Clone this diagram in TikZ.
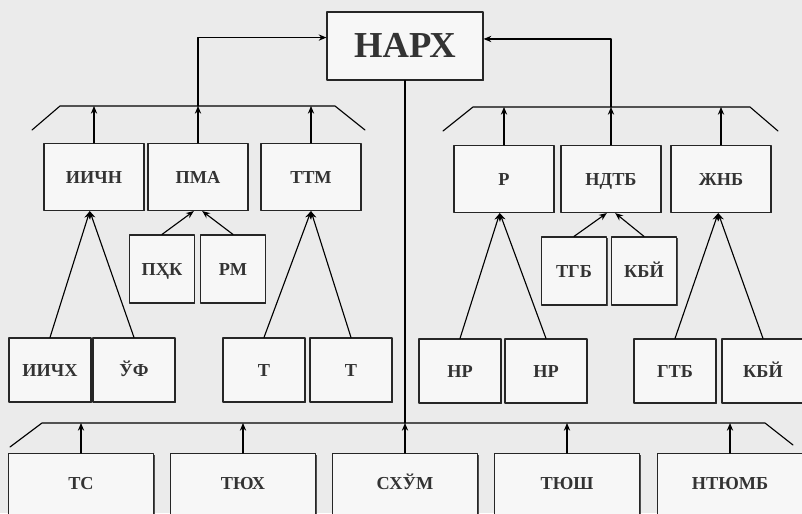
\documentclass[tikz,border=0pt]{standalone}
\usepackage{fontspec}
\setmainfont{Liberation Serif}
\usetikzlibrary{shadows,arrows.meta}
\begin{document}
\begin{tikzpicture}[x=0.025cm,y=-0.025cm,line join=round,line cap=round,>={Stealth[length=5.5pt,width=4.5pt]},thick]
	\tikzset{every node/.style={font=\bfseries\fontsize{13}{15}\selectfont,text=black!80},
		box/.style={draw=black!85,fill=black!3,inner sep=1pt,text height=8.6pt,text depth=0pt,drop shadow={shadow xshift=0.7pt,shadow yshift=-0.7pt,opacity=0.85,fill=black!80}},
		topbox/.style={box,minimum width=2.5cm,minimum height=1.675cm},
		subbox/.style={box,minimum width=1.625cm,minimum height=1.7cm},
		leafbox/.style={box,minimum width=2.05cm,minimum height=1.6cm},
		lowbox/.style={box,anchor=north,minimum width=3.625cm,minimum height=2.2cm,text height=0.3cm,text depth=0.7cm}}
	\useasboundingbox (0,0) rectangle (802,513);
	\clip (0,0) rectangle (802,513);
	\fill[black!8] (0,0) rectangle (802,513);
	\begin{scope}[draw=black!85]
		\node[box,minimum width=3.9cm,minimum height=1.7cm,text height=17pt,font=\bfseries\fontsize{26}{28}\selectfont] (narx) at (405,46) {НАРХ};
		\node[topbox] (iichn) at (94,177) {ИИЧН};
		\node[topbox] (pma) at (198,177) {ПМА};
		\node[topbox] (ttm) at (311,177) {ТТМ};
		\node[topbox] (r) at (504,179) {Р};
		\node[topbox] (ndtb) at (611,179) {НДТБ};
		\node[topbox] (jnb) at (721,179) {ЖНБ};
		\node[subbox] (pxk) at (162,269) {ПҲК};
		\node[subbox] (rm) at (233,269) {РМ};
		\node[subbox] (tgb) at (574,271) {ТГБ};
		\node[subbox] (kbja) at (644,271) {КБЙ};
		\node[leafbox] (iichx) at (50,370) {ИИЧХ};
		\node[leafbox] (uf) at (134,370) {ЎФ};
		\node[leafbox] (ta) at (264,370) {Т};
		\node[leafbox] (tb) at (351,370) {Т};
		\node[leafbox] (nra) at (460,371) {НР};
		\node[leafbox] (nrb) at (546,371) {НР};
		\node[leafbox] (gtb) at (675,371) {ГТБ};
		\node[leafbox] (kbjb) at (763,371) {КБЙ};
		\node[lowbox] (ts) at (81,453) {ТС};
		\node[lowbox] (tjux) at (243,453) {ТЮХ};
		\node[lowbox] (sxum) at (405,453) {СХЎМ};
		\node[lowbox] (tjush) at (567,453) {ТЮШ};
		\node[lowbox] (ntjumb) at (730,453) {НТЮМБ};
	\end{scope}
	\coordinate (lbar) at (0,106);
	\coordinate (rbar) at (0,107);
	\coordinate (bbar) at (0,423);
	\draw (32,130)--(60,106)--(335,106)--(365,130);
	\draw (443,131)--(473,107)--(750,107)--(778,131);
	\draw (10,447)--(42,423)--(765,423)--(793,445);
	\draw[->] (iichn.north) -- (iichn |- lbar);
	\draw[->] (pma.north) -- (pma |- lbar);
	\draw[->] (ttm.north) -- (ttm |- lbar);
	\draw[->] (r.north) -- (r |- rbar);
	\draw[->] (ndtb.north) -- (ndtb |- rbar);
	\draw[->] (jnb.north) -- (jnb |- rbar);
	\draw[->] (pma |- lbar) |- ([yshift=6pt]narx.west);
	\draw[->] (ndtb |- rbar) |- ([yshift=5pt]narx.east);
	\draw[->] (pxk.north) -- ([xshift=-3pt]pma.south);
	\draw[->] (rm.north) -- ([xshift=3pt]pma.south);
	\draw[->] (tgb.north) -- ([xshift=-3pt]ndtb.south);
	\draw[->] (kbja.north) -- ([xshift=3pt]ndtb.south);
	\draw[->] (iichx.north) -- ([xshift=-3pt]iichn.south);
	\draw[->] (uf.north) -- ([xshift=-3pt]iichn.south);
	\draw[->] (ta.north) -- (ttm.south);
	\draw[->] (tb.north) -- (ttm.south);
	\draw[->] (nra.north) -- ([xshift=-3pt]r.south);
	\draw[->] (nrb.north) -- ([xshift=-3pt]r.south);
	\draw[->] (gtb.north) -- ([xshift=-2pt]jnb.south);
	\draw[->] (kbjb.north) -- ([xshift=-2pt]jnb.south);
	\draw[->] (ts.north) -- (ts |- bbar);
	\draw[->] (tjux.north) -- (tjux |- bbar);
	\draw[->] (sxum.north) -- (sxum |- bbar);
	\draw[->] (tjush.north) -- (tjush |- bbar);
	\draw[->] (ntjumb.north) -- (ntjumb |- bbar);
	\draw (narx.south) -- (sxum |- bbar);
\end{tikzpicture}
\end{document}
